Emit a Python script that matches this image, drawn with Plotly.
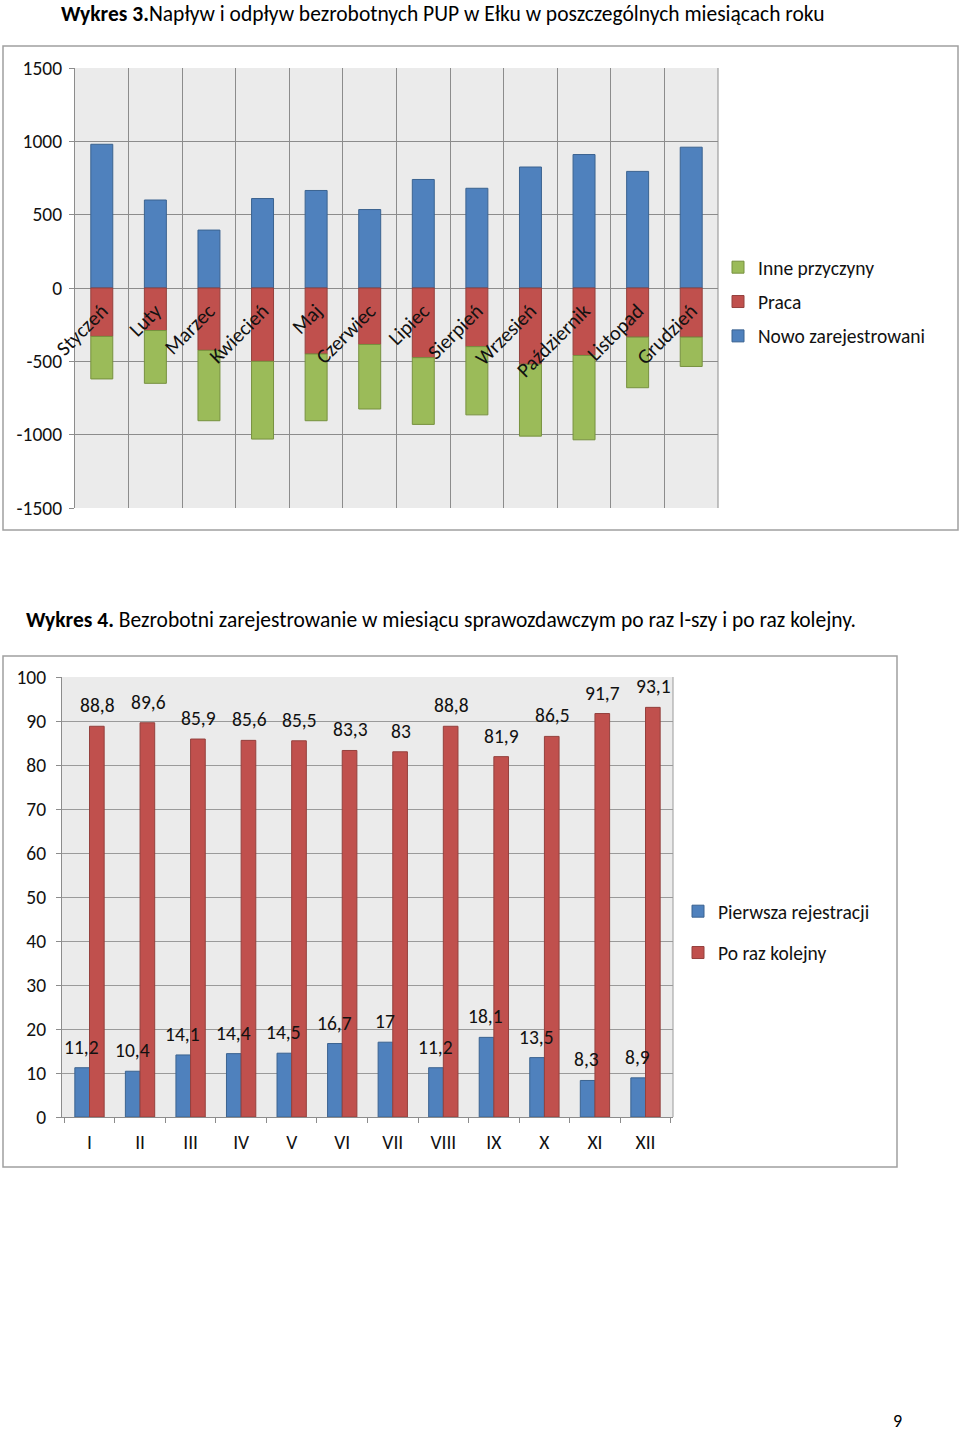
import plotly.graph_objects as go

# ---- Chart 1 data ----
months = ["Styczeń", "Luty", "Marzec", "Kwiecień", "Maj", "Czerwiec", "Lipiec",
          "Sierpień", "Wrzesień", "Październik", "Listopad", "Grudzień"]
nowo = [980, 600, 395, 610, 665, 535, 740, 680, 825, 910, 795, 960]
praca = [-330, -290, -425, -500, -450, -385, -475, -400, -520, -460, -335, -335]
inne = [-290, -360, -480, -530, -455, -440, -455, -465, -490, -575, -345, -200]
y1_ticks = [1500, 1000, 500, 0, -500, -1000, -1500]
y1_labels = ["1500", "1000", "500", "0", "-500", "-1000", "-1500"]

# ---- Chart 2 data ----
roman = ["I", "II", "III", "IV", "V", "VI", "VII", "VIII", "IX", "X", "XI", "XII"]
pierwsza = [11.2, 10.4, 14.1, 14.4, 14.5, 16.7, 17, 11.2, 18.1, 13.5, 8.3, 8.9]
kolejny = [88.8, 89.6, 85.9, 85.6, 85.5, 83.3, 83, 88.8, 81.9, 86.5, 91.7, 93.1]

W, H = 960, 1434
FONT = "Carlito, Lato, sans-serif"
FS = 19.5
BLUE, RED, GREEN = "#4F81BD", "#C0504D", "#9BBB59"
BLUE_L, RED_L, GREEN_L = "#3B6390", "#94403D", "#77913F"


def px_x(p):
    return p / W


def px_y(p):
    return 1 - p / H


def fmt(v):
    return f"{v:g}".replace(".", ",")


fig = go.Figure()

# Chart 1 traces
fig.add_trace(go.Bar(x=months, y=nowo, name="Nowo zarejestrowani", marker_color=BLUE,
                     marker_line=dict(color=BLUE_L, width=1), xaxis="x", yaxis="y",
                     legend="legend", legendgroup="g1", legendrank=3))
fig.add_trace(go.Bar(x=months, y=praca, name="Praca", marker_color=RED,
                     marker_line=dict(color=RED_L, width=1), xaxis="x", yaxis="y",
                     legend="legend", legendgroup="g2", legendrank=2))
fig.add_trace(go.Bar(x=months, y=inne, name="Inne przyczyny", marker_color=GREEN,
                     marker_line=dict(color=GREEN_L, width=1), xaxis="x", yaxis="y",
                     legend="legend", legendgroup="g3", legendrank=1))

# Chart 2 traces
BW = 0.29
fig.add_trace(go.Bar(x=roman, y=pierwsza, name="Pierwsza rejestracji", marker_color=BLUE,
                     marker_line=dict(color=BLUE_L, width=1), xaxis="x2", yaxis="y2",
                     legend="legend2", legendgroup="h1", legendrank=1,
                     width=BW, offset=-BW, offsetgroup="a"))
fig.add_trace(go.Bar(x=roman, y=kolejny, name="Po raz kolejny", marker_color=RED,
                     marker_line=dict(color=RED_L, width=1), xaxis="x2", yaxis="y2",
                     legend="legend2", legendgroup="h2", legendrank=2,
                     width=BW, offset=0, offsetgroup="b"))

# domains
x1d = [px_x(75), px_x(718)]
y1d = [px_y(508), px_y(68)]
x2d = [px_x(62), px_x(673)]
y2d = [px_y(1117), px_y(677)]

grid1 = "#8C8C8C"
grid2 = "#9A9A9A"

fig.update_layout(
    width=W, height=H,
    margin=dict(l=0, r=0, t=0, b=0, autoexpand=False),
    paper_bgcolor="white",
    plot_bgcolor="#EBEBEB",
    font=dict(family=FONT, size=FS, color="#111"),
    barmode="relative",
    bargap=0.59,
    showlegend=True,
    xaxis=dict(domain=x1d, anchor="free", position=(y1d[0] + y1d[1]) / 2,
               type="category", tickangle=-45, tickson="boundaries",
               showgrid=True, gridcolor=grid1, gridwidth=1, showline=False,
               ticks="", ticklabelstandoff=6, tickfont=dict(size=20.5),
               zeroline=False, fixedrange=True, automargin=False),
    yaxis=dict(domain=y1d, anchor="x", range=[-1500, 1500],
               tickvals=y1_ticks, ticktext=y1_labels,
               showgrid=True, gridcolor=grid1, gridwidth=1, zeroline=True,
               zerolinecolor=grid1, zerolinewidth=1, showline=True,
               linecolor=grid1, ticks="outside", ticklen=5, tickcolor=grid1,
               tickfont=dict(size=FS), ticklabelstandoff=3, automargin=False),
    xaxis2=dict(domain=x2d, anchor="y2", type="category", tickson="boundaries",
                showgrid=False, showline=True, linecolor="#8C8C8C",
                ticks="outside", ticklen=5, tickcolor="#8C8C8C",
                tickfont=dict(size=FS), ticklabelstandoff=8, automargin=False),
    yaxis2=dict(domain=y2d, anchor="x2", range=[0, 100], dtick=10,
                showgrid=True, gridcolor=grid2, gridwidth=1, zeroline=False,
                showline=True, linecolor="#8C8C8C", ticks="outside", ticklen=5,
                tickcolor="#8C8C8C", tickfont=dict(size=FS), ticklabelstandoff=6,
                automargin=False),
    legend=dict(x=px_x(718), y=px_y(248), xanchor="left", yanchor="top",
                traceorder="grouped", font=dict(size=FS),
                bgcolor="rgba(0,0,0,0)", itemwidth=30, tracegroupgap=6),
    legend2=dict(x=px_x(678), y=px_y(892), xanchor="left", yanchor="top",
                 traceorder="grouped", font=dict(size=FS), bgcolor="rgba(0,0,0,0)",
                 itemwidth=30, tracegroupgap=13),
)

shapes = []
shapes.append(dict(type="rect", xref="paper", yref="paper", x0=px_x(3), x1=px_x(958),
                   y0=px_y(530), y1=px_y(46), line=dict(color="#A0A0A0", width=1.5)))
shapes.append(dict(type="rect", xref="paper", yref="paper", x0=px_x(3), x1=px_x(897),
                   y0=px_y(1167), y1=px_y(656), line=dict(color="#A0A0A0", width=1.5)))
shapes.append(dict(type="line", xref="paper", yref="paper", x0=x1d[1], x1=x1d[1],
                   y0=y1d[0], y1=y1d[1], line=dict(color=grid1, width=1)))
shapes.append(dict(type="line", xref="paper", yref="paper", x0=x2d[1], x1=x2d[1],
                   y0=y2d[0], y1=y2d[1], line=dict(color=grid2, width=1)))
fig.update_layout(shapes=shapes)

annotations = [
    dict(text="<b>Wykres 3.</b>Napływ i odpływ bezrobotnych PUP w Ełku w poszczególnych miesiącach roku",
         xref="paper", yref="paper", x=px_x(60), y=px_y(0), xanchor="left", yanchor="top",
         borderpad=0, showarrow=False, font=dict(size=21.5, color="#000")),
    dict(text="<b>Wykres 4.</b> Bezrobotni zarejestrowanie w miesiącu sprawozdawczym po raz I-szy i po raz kolejny.",
         xref="paper", yref="paper", x=px_x(24), y=px_y(620), xanchor="left", yanchor="middle",
         showarrow=False, font=dict(size=21.5, color="#000")),
    dict(text="9", xref="paper", yref="paper", x=px_x(897), y=px_y(1433), xanchor="center",
         yanchor="bottom", borderpad=0, showarrow=False, font=dict(size=18, color="#000")),
]
for cat, v in zip(roman, pierwsza):
    annotations.append(dict(text=fmt(v), xref="x2", yref="y2", x=cat, y=v,
                            xanchor="center", yanchor="bottom", xshift=-8, yshift=7,
                            showarrow=False, font=dict(size=FS, color="#111")))
for cat, v in zip(roman, kolejny):
    annotations.append(dict(text=fmt(v), xref="x2", yref="y2", x=cat, y=v,
                            xanchor="center", yanchor="bottom", xshift=8, yshift=7,
                            showarrow=False, font=dict(size=FS, color="#111")))
fig.update_layout(annotations=annotations)

fig.write_html("out.html", config={"displayModeBar": False},
               post_script="document.body.style.margin='0';")
